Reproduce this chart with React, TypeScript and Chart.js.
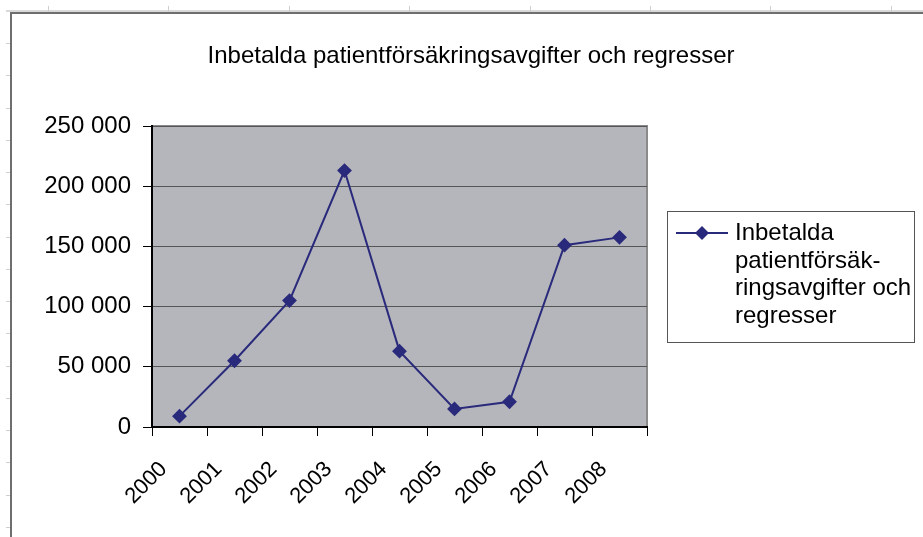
import React, { useEffect, useRef } from "react";
import { Chart, registerables } from "chart.js";

Chart.register(...registerables);

const TITLE = "Inbetalda patientförsäkringsavgifter och regresser";
const SERIES_LABEL = "Inbetalda patientförsäkringsavgifter och regresser";
const LEGEND_LINES = ["Inbetalda", "patientförsäk-", "ringsavgifter och", "regresser"];
const YEARS = ["2000", "2001", "2002", "2003", "2004", "2005", "2006", "2007", "2008"];
const VALUES = [9000, 55000, 105000, 213000, 63000, 15000, 21000, 151000, 157500];
const Y_MIN = 0;
const Y_MAX = 250000;
const Y_STEP = 50000;

const LINE_COLOR = "#2a2a7c";
const FONT = "'Liberation Sans', Arial, sans-serif";

const fmt = (v: number) => {
  const s = Math.round(v).toString();
  return s.replace(/\B(?=(\d{3})+(?!\d))/g, " ");
};

const decorPlugin = {
  id: "decor",
  beforeDraw(chart: any) {
    const { ctx, chartArea: a, width, height } = chart;
    ctx.save();
    ctx.fillStyle = "#ffffff";
    ctx.fillRect(0, 0, width, height);
    // sheet frame
    ctx.strokeStyle = "#d9d9d9";
    ctx.lineWidth = 2;
    ctx.beginPath();
    ctx.moveTo(6, 11);
    ctx.lineTo(width, 11);
    ctx.stroke();
    ctx.strokeStyle = "#cfcfcf";
    ctx.lineWidth = 1;
    for (let x = 48; x < width; x += 120.4) {
      ctx.beginPath();
      ctx.moveTo(Math.round(x) + 0.5, 6);
      ctx.lineTo(Math.round(x) + 0.5, 12);
      ctx.stroke();
    }
    for (let y = 43; y < height; y += 32.25) {
      ctx.beginPath();
      ctx.moveTo(6, Math.round(y) + 0.5);
      ctx.lineTo(10, Math.round(y) + 0.5);
      ctx.stroke();
    }
    ctx.strokeStyle = "#6e6e6e";
    ctx.lineWidth = 2;
    ctx.beginPath();
    ctx.moveTo(width, 13);
    ctx.lineTo(11, 13);
    ctx.lineTo(11, height);
    ctx.stroke();
    // plot area
    ctx.fillStyle = "#b5b6bb";
    ctx.fillRect(a.left, a.top, a.right - a.left, a.bottom - a.top);
    ctx.strokeStyle = "#8a8a8a";
    ctx.lineWidth = 2;
    ctx.beginPath();
    ctx.moveTo(a.left, a.top);
    ctx.lineTo(a.right, a.top);
    ctx.lineTo(a.right, a.bottom);
    ctx.stroke();
    // title
    ctx.fillStyle = "#000";
    ctx.font = `24px ${FONT}`;
    ctx.textAlign = "center";
    ctx.textBaseline = "alphabetic";
    ctx.fillText(TITLE, 471, 63);
    ctx.restore();
  },
  afterDraw(chart: any) {
    const { ctx } = chart;
    const ds = chart.data.datasets[0];
    ctx.save();
    // x labels, rotated 45 degrees
    const xs = chart.scales.x;
    ctx.fillStyle = "#000";
    ctx.font = `22px ${FONT}`;
    ctx.textAlign = "right";
    ctx.textBaseline = "alphabetic";
    (chart.data.labels as string[]).forEach((lab, i) => {
      const px = xs.getPixelForTick(i);
      ctx.save();
      ctx.translate(px - 11.5, xs.top + 43);
      ctx.rotate(-Math.PI / 4);
      ctx.fillText(lab, 0, 0);
      ctx.restore();
    });
    // legend box
    const bx = 667.5, by = 211.5, bw = 247, bh = 131;
    ctx.fillStyle = "#ffffff";
    ctx.fillRect(bx, by, bw, bh);
    ctx.strokeStyle = "#555";
    ctx.lineWidth = 1;
    ctx.strokeRect(bx, by, bw, bh);
    const my = 233;
    ctx.strokeStyle = ds.borderColor;
    ctx.lineWidth = 2;
    ctx.beginPath();
    ctx.moveTo(676, my);
    ctx.lineTo(728, my);
    ctx.stroke();
    ctx.fillStyle = ds.pointBackgroundColor;
    const r = 7;
    ctx.beginPath();
    ctx.moveTo(702, my - r);
    ctx.lineTo(702 + r, my);
    ctx.lineTo(702, my + r);
    ctx.lineTo(702 - r, my);
    ctx.closePath();
    ctx.fill();
    ctx.fillStyle = "#000";
    ctx.font = `24px ${FONT}`;
    ctx.textAlign = "left";
    ctx.textBaseline = "alphabetic";
    LEGEND_LINES.forEach((t, i) => {
      ctx.fillText(t, 735, 240 + i * 27.7);
    });
    ctx.restore();
  },
};

export default function App() {
  const ref = useRef<HTMLCanvasElement>(null);
  useEffect(() => {
    document.body.style.margin = "0";
    const chart = new Chart(ref.current as HTMLCanvasElement, {
      type: "line",
      data: {
        labels: YEARS,
        datasets: [
          {
            label: SERIES_LABEL,
            data: VALUES,
            borderColor: LINE_COLOR,
            backgroundColor: LINE_COLOR,
            pointBackgroundColor: LINE_COLOR,
            pointBorderColor: LINE_COLOR,
            pointStyle: "rectRot",
            pointRadius: 6,
            pointHoverRadius: 6,
            borderWidth: 2,
            tension: 0,
          },
        ],
      },
      options: {
        responsive: false,
        animation: false,
        events: [],
        layout: { padding: { left: 0, right: 276, top: 126, bottom: 0 } },
        plugins: {
          legend: { display: false },
          title: { display: false },
          tooltip: { enabled: false },
        },
        scales: {
          x: {
            type: "category",
            offset: true,
            afterFit: (s: any) => {
              s.height = 110;
            },
            grid: {
              offset: true,
              drawOnChartArea: false,
              drawTicks: true,
              tickLength: 9,
              color: "#000",
              tickColor: "#000",
              lineWidth: 1,
            },
            border: { display: true, color: "#000", width: 2 },
            ticks: {
              display: false,
              autoSkip: false,
            },
          },
          y: {
            min: Y_MIN,
            max: Y_MAX,
            afterFit: (s: any) => {
              s.width = 152;
            },
            grid: {
              color: "#555",
              tickColor: "#000",
              tickLength: 9,
              lineWidth: 1,
            },
            border: { display: true, color: "#000", width: 2 },
            ticks: {
              stepSize: Y_STEP,
              color: "#000",
              padding: 12,
              font: { family: FONT, size: 24 },
              callback: (v: any) => fmt(Number(v)),
            },
          },
        },
      },
      plugins: [decorPlugin],
    } as any);
    return () => chart.destroy();
  }, []);
  return (
    <div style={{ position: "fixed", left: 0, top: 0, width: 923, height: 537 }}>
      <canvas ref={ref} width={923} height={537} />
    </div>
  );
}
